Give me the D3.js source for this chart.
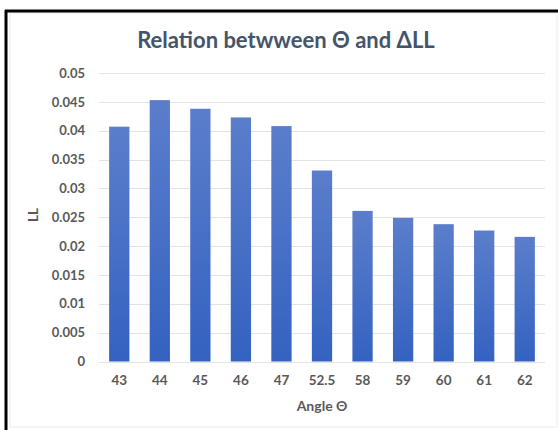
<!DOCTYPE html>
<html>
<head>
<meta charset="utf-8">
<script src="https://cdn.jsdelivr.net/npm/d3@7"></script>
<style>
  html, body { margin: 0; padding: 0; background: #fff; }
  svg { display: block; }
  text { font-family: Lato, "Open Sans", sans-serif; }
</style>
</head>
<body>
<script>
// Angle categories and the LL value measured at each angle
const angles = ["43", "44", "45", "46", "47", "52.5", "58", "59", "60", "61", "62"];
const llValues = [0.0407, 0.0453, 0.0438, 0.0423, 0.0408, 0.0331, 0.0261, 0.0249, 0.0238, 0.0227, 0.0216];
const yTicks = [0, 0.005, 0.01, 0.015, 0.02, 0.025, 0.03, 0.035, 0.04, 0.045, 0.05];

const W = 558, H = 430;
const margin = { left: 99, right: 13, top: 73, bottom: 68.5 };

const svg = d3.select("body").append("svg").attr("width", W).attr("height", H);

// Bar gradient: lighter at the top, deeper blue at the base
const defs = svg.append("defs");
const grad = defs.append("linearGradient")
  .attr("id", "barGrad").attr("x1", 0).attr("y1", 0).attr("x2", 0).attr("y2", 1)
  .attr("gradientUnits", "objectBoundingBox");
grad.append("stop").attr("offset", "0%").attr("stop-color", "#5b7ecb");
grad.append("stop").attr("offset", "100%").attr("stop-color", "#3462c0");

// Frame
svg.append("rect").attr("x", 10).attr("y", 13).attr("width", W - 11).attr("height", H - 16)
  .attr("fill", "none").attr("stroke", "#ececec").attr("stroke-width", 1);
svg.append("line").attr("x1", 6).attr("x2", 6).attr("y1", 10).attr("y2", H)
  .attr("stroke", "#000").attr("stroke-width", 3);
svg.append("line").attr("x1", 5).attr("x2", W).attr("y1", 11).attr("y2", 11)
  .attr("stroke", "#000").attr("stroke-width", 3);

const x = d3.scaleBand().domain(angles)
  .range([margin.left, W - margin.right]).paddingInner(0.5).paddingOuter(0.25);
const y = d3.scaleLinear().domain([0, 0.05]).range([H - margin.bottom, margin.top]);

// Horizontal gridlines
svg.append("g").selectAll("line").data(yTicks).join("line")
  .attr("x1", margin.left).attr("x2", W - margin.right)
  .attr("y1", d => Math.round(y(d)) + 0.5).attr("y2", d => Math.round(y(d)) + 0.5)
  .attr("stroke", "#e3e3e3").attr("stroke-width", 1);

// Bars
svg.append("g").selectAll("rect").data(angles.map((a, i) => ({ a, v: llValues[i] }))).join("rect")
  .attr("x", d => x(d.a)).attr("width", x.bandwidth())
  .attr("y", d => y(d.v)).attr("height", d => y(0) - y(d.v))
  .attr("fill", "url(#barGrad)");

// Y axis labels
const yAxis = d3.axisLeft(y).tickValues(yTicks).tickSize(0).tickPadding(14)
  .tickFormat(d => d === 0 ? "0" : String(+d.toFixed(3)));
const gy = svg.append("g").attr("transform", `translate(${margin.left},0)`).call(yAxis);
gy.select(".domain").remove();
gy.selectAll("text").attr("font-family", "Lato, sans-serif").attr("font-size", 13)
  .attr("font-weight", "bold").attr("fill", "#595959");

// X axis labels
const xAxis = d3.axisBottom(x).tickSize(0).tickPadding(14);
const gx = svg.append("g").attr("transform", `translate(0,${y(0)})`).call(xAxis);
gx.select(".domain").remove();
gx.selectAll("text").attr("font-family", "Lato, sans-serif").attr("font-size", 13.5)
  .attr("font-weight", "bold").attr("fill", "#595959");

// Axis titles
svg.append("text").attr("x", (margin.left + W - margin.right) / 2).attr("y", 411)
  .attr("text-anchor", "middle").attr("font-size", 14).attr("font-weight", "bold")
  .attr("fill", "#595959").text("Angle Θ");
svg.append("text").attr("transform", `translate(38,215) rotate(-90)`)
  .attr("text-anchor", "middle").attr("font-size", 13.5).attr("font-weight", "bold")
  .attr("fill", "#595959").text("LL");

// Chart title
svg.append("text").attr("x", 286).attr("y", 48)
  .attr("text-anchor", "middle").attr("font-size", 22).attr("font-weight", "bold")
  .attr("fill", "#44546a").text("Relation betwween Θ and ΔLL");
</script>
</body>
</html>
